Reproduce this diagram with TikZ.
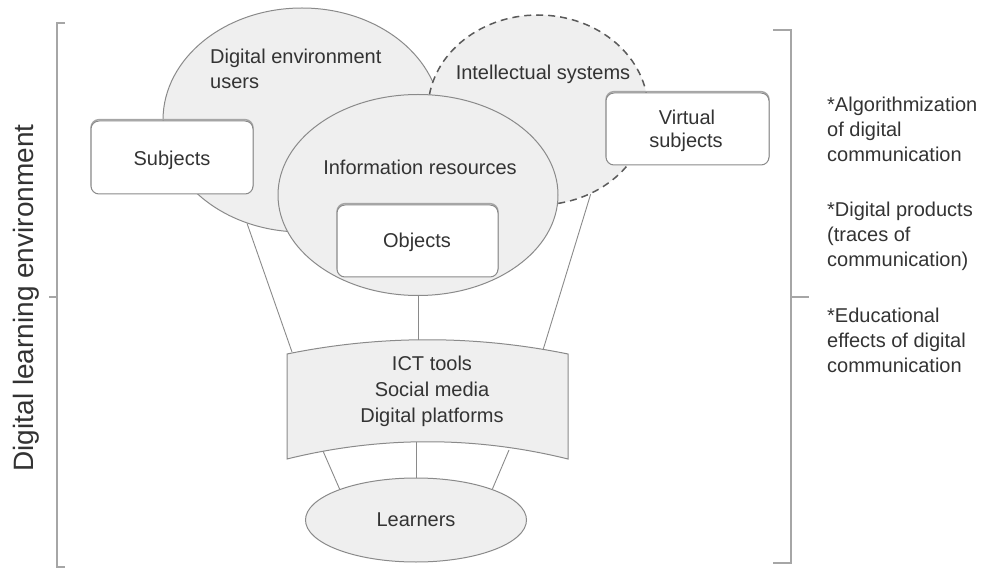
\documentclass[tikz,border=0pt]{standalone}
\usepackage{fontspec}
\setmainfont{Liberation Sans}
\usetikzlibrary{shapes.geometric}
\definecolor{fillg}{HTML}{EFEFEF}
\definecolor{edge}{HTML}{8A8A8A}
\definecolor{txt}{HTML}{333333}
\definecolor{brk}{HTML}{A6A6A6}
\definecolor{dashc}{HTML}{5A5A5A}
\begin{document}
\begin{tikzpicture}[x=1pt,y=-1pt,
  ell/.style={ellipse, draw=edge, fill=fillg, line width=1pt, inner sep=0pt},
  box/.style={draw=edge, fill=white, rounded corners=8pt, line width=1pt, inner sep=0pt,
    preaction={draw=black!35, line width=1.4pt, transform canvas={yshift=1.4pt}}},
  lbl/.style={font=\fontsize{20}{25}\selectfont, text=txt, inner sep=0pt},
  side/.style={lbl, anchor=base west},
  conn/.style={draw=edge, line width=0.9pt},
  brkt/.style={draw=brk, line width=1.5pt}]
\useasboundingbox (0,0) rectangle (982,569);

% ellipses
\node[ell, minimum width=278pt, minimum height=224pt] (users) at (302,120) {};
\node[ell, draw=dashc, dash pattern=on 7pt off 5pt, line width=1.5pt,
      minimum width=220pt, minimum height=190pt] (intel) at (538,110) {};
\node[ell, minimum width=280pt, minimum height=201pt] (info) at (418,195) {};

% boxes
\node[box, minimum width=162pt, minimum height=73pt] (subj) at (172,157.5) {};
\node[box, minimum width=161pt, minimum height=72pt] (obj) at (417.5,241) {};
\node[box, minimum width=163pt, minimum height=72pt] (virt) at (687.5,129) {};

% banner
\coordinate (bTL) at (287,354);
\coordinate (bTR) at (568,354);
\coordinate (bBR) at (568,459);
\coordinate (bBL) at (287,459);
\path[draw=edge, fill=fillg, line width=1pt]
  (bTL) .. controls (380,335) and (475,335) .. (bTR) -- (bBR)
  .. controls (475,436) and (380,436) .. (bBL) -- cycle;
\coordinate (bt1) at (292,352);
\coordinate (bt2) at (418,340);
\coordinate (bt3) at (543,350);
\coordinate (bb1) at (323,451);
\coordinate (bb2) at (416,442);
\coordinate (bb3) at (509,450);

% learners
\node[ell, minimum width=221pt, minimum height=84pt, lbl] (learn) at (416,520) {Learners};

% labels
\node[lbl, anchor=base west] (tusers1) at (210,64) {Digital environment};
\node[lbl, anchor=base west] (tusers2) at (210,89) {users};
\node[lbl, anchor=base] (tintel) at (543,80) {Intellectual systems};
\node[lbl, anchor=base] (tinfo) at (420,175) {Information resources};
\node[lbl, anchor=base] (tsubj) at (172,166) {Subjects};
\node[lbl, anchor=base] (tobj) at (417,248) {Objects};
\node[lbl, anchor=base] (tvirt1) at (687,125) {Virtual};
\node[lbl, anchor=base] (tvirt2) at (686,148) {subjects};
\node[lbl, anchor=base] (tict1) at (432,370) {ICT tools};
\node[lbl, anchor=base] (tict2) at (432,396) {Social media};
\node[lbl, anchor=base] (tict3) at (432,422) {Digital platforms};

% connectors
\draw[conn] (users.242) -- (bt1);
\draw[conn] (info.south) -- (bt2);
\draw[conn] (intel.302) -- (bt3);
\draw[conn] (bb1) -- (learn.158);
\draw[conn] (bb2) -- (learn.north);
\draw[conn] (bb3) -- (learn.22);

% brackets
\draw[brkt] (65,23) -- (57,23) -- (57,567) -- (65,567);
\draw[brkt] (57,297) -- (49,297);
\draw[brkt] (773,30) -- (791,30) -- (791,563) -- (773,563);
\draw[brkt] (791,297) -- (809,297);

% side texts
\node[lbl, font=\fontsize{28}{32}\selectfont, rotate=90, anchor=base] (dle) at (33,298) {Digital learning environment};
\node[side] (r1a) at (827,112) {*Algorithmization};
\node[side] (r1b) at (827,137) {of digital};
\node[side] (r1c) at (827,162) {communication};
\node[side] (r2a) at (827,217) {*Digital products};
\node[side] (r2b) at (827,242) {(traces of};
\node[side] (r2c) at (827,267) {communication)};
\node[side] (r3a) at (827,322) {*Educational};
\node[side] (r3b) at (827,347) {effects of digital};
\node[side] (r3c) at (827,372) {communication};
\end{tikzpicture}
\end{document}
